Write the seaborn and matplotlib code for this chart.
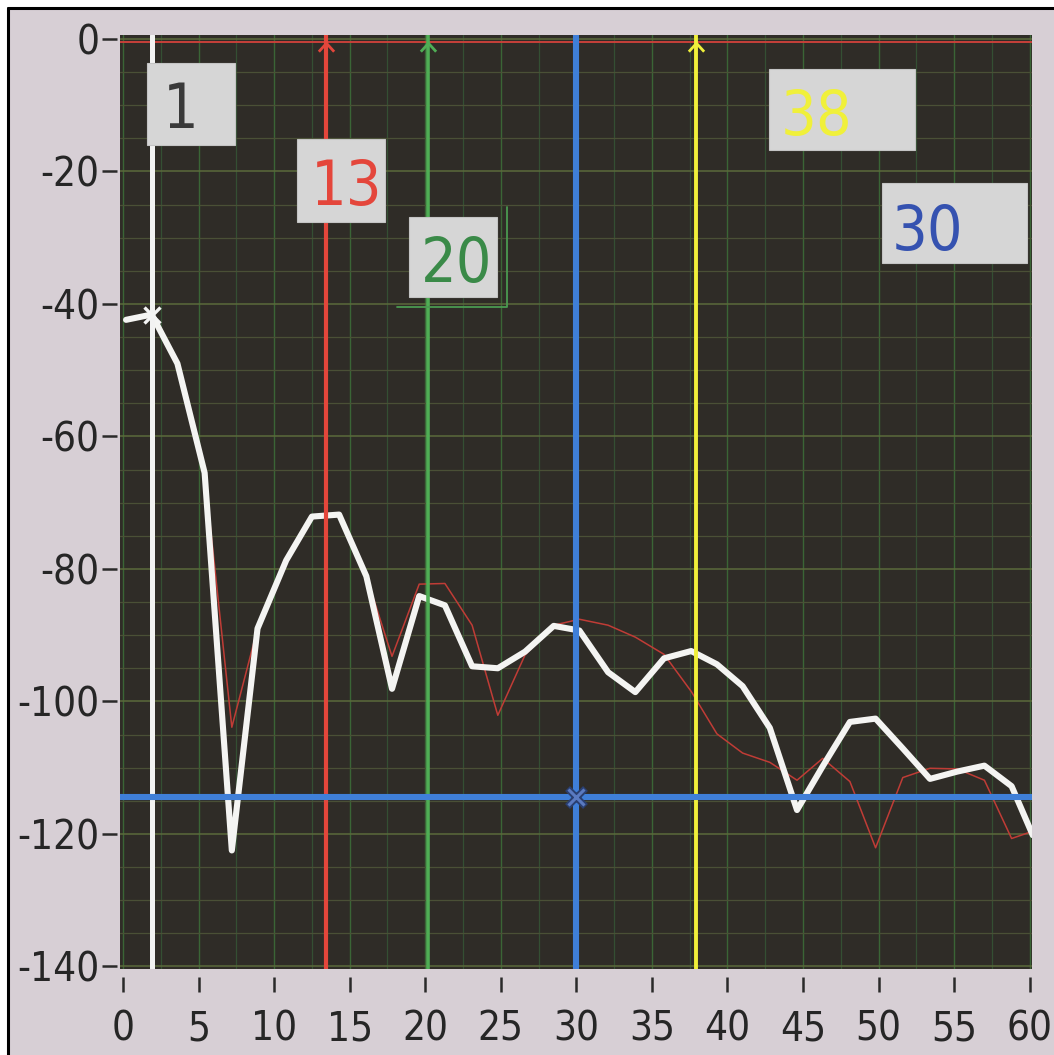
import numpy as np
import pandas as pd
import matplotlib
matplotlib.use("Agg")
import matplotlib.pyplot as plt
import seaborn as sns
from matplotlib.patches import Rectangle
from matplotlib.path import Path
from matplotlib.lines import Line2D
from matplotlib.ticker import MultipleLocator

# ---------------- data ----------------
x_vals = [0.2, 1.9, 3.6, 5.4, 7.2, 8.9, 10.8, 12.5, 14.3, 16.1, 17.8, 19.6,
          21.3, 23.1, 24.8, 26.6, 28.5, 30.2, 32.1, 33.9, 35.8, 37.6, 39.3,
          41.0, 42.8, 44.6, 46.3, 48.1, 49.8, 51.6, 53.4, 55.2, 57.0, 58.8,
          60.2]
white_db = [-42.4, -41.6, -49.0, -65.5, -122.5, -89.0, -78.7, -72.1, -71.8,
            -81.1, -98.1, -84.1, -85.5, -94.7, -95.0, -92.5, -88.6, -89.3,
            -95.6, -98.6, -93.5, -92.4, -94.4, -97.7, -104.0, -116.4, -109.8,
            -103.1, -102.6, -107.1, -111.7, -110.6, -109.7, -112.8, -120.2]
red_db = [-42.4, -41.6, -49.0, -65.5, -103.9, -89.0, -78.7, -72.1, -71.8,
          -81.1, -93.2, -82.3, -82.2, -88.5, -102.1, -93.0, -88.5, -87.6,
          -88.5, -90.3, -92.9, -98.5, -104.9, -107.8, -109.2, -111.9, -108.6,
          -112.1, -122.1, -111.5, -110.1, -110.2, -111.9, -120.7, -119.6]

cursor_x = [1.95, 13.45, 20.2, 30.0, 37.9]
cursor_labels = ["1", "13", "20", "30", "38"]
cursor_colors = ["#f2f2f2", "#e4463b", "#4fae55", "#3f7fd8", "#f0f03a"]
cursor_widths = [3.6, 3.0, 2.6, 4.4, 2.8]
label_text_colors = ["#3a3a3a", "#e4463b", "#3a8a48", "#3552b0", "#f0f03a"]
hline_y = -114.5
ref_level = -0.4
x_ticks = list(range(0, 61, 5))
y_ticks = list(range(0, -141, -20))

# ---------------- style ----------------
sns.set_style("white")
plt.rcParams['font.family'] = ['DejaVu Sans']
plt.rcParams['font.stretch'] = 'condensed'

W, H = 1054, 1055
fig = plt.figure(figsize=(W / 100, H / 100), dpi=100, facecolor="white")

bg = "#d7cfd5"
fig.add_artist(Rectangle((8 / W, 0), 1, (H - 8) / H, transform=fig.transFigure,
                         fc=bg, ec="none", zorder=-10))
fig.add_artist(Line2D([8 / W, 8 / W], [0, 1 - 8 / H], transform=fig.transFigure,
                      color="black", lw=2.2, zorder=-9))
fig.add_artist(Line2D([8 / W, 1], [1 - 8 / H, 1 - 8 / H], transform=fig.transFigure,
                      color="black", lw=2.2, zorder=-9))

ax = fig.add_axes([120 / W, 1 - 969 / H, 912 / W, 934 / H])
ax.set_facecolor("#2f2c27")

df_white = pd.DataFrame({"x": x_vals, "y": white_db})
df_red = pd.DataFrame({"x": x_vals, "y": red_db})

sns.lineplot(data=df_red, x="x", y="y", ax=ax, color="#c03c36", lw=1.1,
             sort=False, estimator=None, zorder=3)
sns.lineplot(data=df_white, x="x", y="y", ax=ax, color="#f4f4f2", lw=4.4,
             sort=False, estimator=None, zorder=4)

ax.axhline(ref_level, color="#c8403a", lw=1.4, zorder=3)

for cx, col, w in zip(cursor_x, cursor_colors, cursor_widths):
    ax.axvline(cx, color=col, lw=w, zorder=5)
ax.axhline(hline_y, color=cursor_colors[3], lw=4.4, zorder=5)

# cursor markers
chev = Path([(-1, -0.55), (0, 0.55), (1, -0.55)],
            [Path.MOVETO, Path.LINETO, Path.LINETO])
for i in (1, 2, 4):
    ax.plot([cursor_x[i]], [-1.2], marker=chev, ms=11, mew=2.0,
            mec=cursor_colors[i], mfc="none", ls="none", zorder=6, clip_on=False)
ax.plot([cursor_x[0]], [white_db[1]], marker="x", ms=11, mew=2.4,
        color="#f4f4f4", ls="none", zorder=6)
ax.plot([cursor_x[3]], [hline_y], marker="x", ms=13, mew=5, color="#2a3f70",
        ls="none", zorder=6)
ax.plot([cursor_x[3]], [hline_y], marker="x", ms=11, mew=2.2, color="#5a7ac0",
        ls="none", zorder=7)

ax.set_xlim(-0.2, 60.15)
ax.set_ylim(-140.4, 0.6)

ax.set_xticks(x_ticks)
ax.set_yticks(y_ticks)
ax.xaxis.set_minor_locator(MultipleLocator(2.5))
ax.yaxis.set_minor_locator(MultipleLocator(5))
ax.xaxis.grid(True, which="major", color="#3a6536", lw=1.0, zorder=0)
ax.xaxis.grid(True, which="minor", color="#344f33", lw=0.9, zorder=0)
ax.yaxis.grid(True, which="major", color="#5b6a3b", lw=1.1, zorder=0)
ax.yaxis.grid(True, which="minor", color="#4a5036", lw=0.9, zorder=0)
ax.set_axisbelow(True)

for s in ax.spines.values():
    s.set_visible(False)
ax.spines["bottom"].set_position(("outward", 6))
ax.spines["left"].set_position(("outward", 2))

ax.tick_params(axis="x", which="major", direction="out", length=11, width=1.8,
               color="#2a2a2a", labelsize=29, labelcolor="#262626", pad=12,
               bottom=True)
ax.tick_params(axis="y", which="major", direction="out", length=11, width=1.8,
               color="#2a2a2a", labelsize=29, labelcolor="#262626", pad=2,
               left=True)
ax.tick_params(which="minor", length=0)
ax.set_xticklabels([str(v) for v in x_ticks])
ax.set_yticklabels([str(v) for v in y_ticks])
ax.set_xlabel("")
ax.set_ylabel("")

# cursor label boxes (pixel geometry, top-left origin)
boxes = {
    "1": (147, 63, 235, 145, 163, 128),
    "13": (297, 139, 385, 222, 311, 205),
    "20": (409, 217, 497, 297, 421, 282),
    "38": (769, 69, 915, 150, 781, 135),
    "30": (882, 183, 1027, 263, 892, 250),
}
for lab, tcol in zip(cursor_labels, label_text_colors):
    x0, y0, x1, y1, tx, ty = boxes[lab]
    fig.add_artist(Rectangle((x0 / W, 1 - y1 / H), (x1 - x0) / W, (y1 - y0) / H,
                             transform=fig.transFigure, fc="#d6d6d6",
                             ec="#c4c4c4", lw=0.8, zorder=10))
    fig.text(tx / W, 1 - ty / H, lab, ha="left", va="baseline", fontsize=45,
             color=tcol, zorder=11)

# thin green bracket next to the "20" label
fig.add_artist(Line2D([397 / W, 507 / W, 507 / W],
                      [1 - 307 / H, 1 - 307 / H, 1 - 207 / H],
                      transform=fig.transFigure, color="#4a9a50", lw=1.3, zorder=9))

fig.savefig("out.png", dpi=100, facecolor=fig.get_facecolor())
